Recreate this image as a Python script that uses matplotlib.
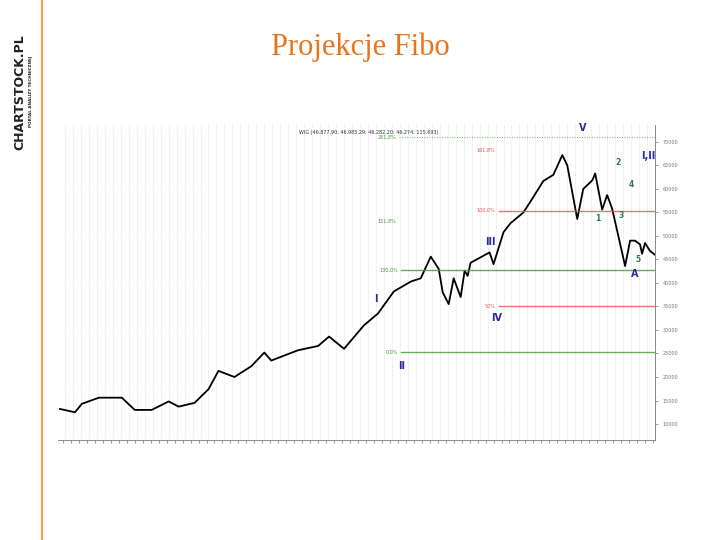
import matplotlib
matplotlib.use("Agg")
import matplotlib.pyplot as plt

# price path (week index, index value)
weeks = [0, 15, 22, 39, 62, 75, 92, 109, 119, 135, 149, 159, 175, 192, 205, 212, 239, 259,
         270, 285, 305, 319, 335, 352, 362, 372, 380, 384, 390, 395, 402, 406, 409, 412, 431,
         435, 445, 452, 465, 472, 485, 495, 504, 509, 519, 525, 534, 537, 544, 549, 554, 560,
         567, 572, 577, 582, 584, 587, 592, 597]
prices = [13200, 12500, 14300, 15600, 15600, 13000, 13000, 14800, 13700, 14500, 17400, 21300,
          20000, 22300, 25200, 23500, 25700, 26600, 28600, 26000, 31000, 33500, 38200, 40300,
          41000, 45600, 43000, 38000, 35500, 41000, 37000, 42600, 41500, 44300, 46500, 44000,
          50800, 52700, 55000, 57300, 61700, 63000, 67200, 65000, 53600, 60000, 61800, 63300,
          55600, 58700, 55800, 50200, 43600, 49000, 49000, 48200, 46200, 48500, 46800, 46000]

fib_labels = ["261,8%", "161,8%", "100,0%", "151,8%", "130,0%", "50%", "0,0%"]
fib_values = [71000, 68300, 55400, 53100, 42700, 35000, 25300]
fib_colors = ["#3a9a3a", "#e05050", "#e05050", "#3a9a3a", "#3a9a3a", "#e05050", "#3a9a3a"]
fib_start = [340, 440, 440, 340, 342, 440, 342]
fib_drawn = [False, False, True, False, True, True, True]

waves = [("I", 317, 36500), ("II", 343, 22300), ("III", 432, 48800), ("IV", 438, 32500),
         ("V", 524, 73000), ("I,II", 590, 67000), ("A", 577, 42000)]
subwaves = [("1", 540, 53800), ("2", 560, 65700), ("3", 563, 54400), ("4", 573, 61000),
            ("5", 580, 45000)]

yticks = list(range(10000, 70001, 5000))

fig = plt.figure(figsize=(7.2, 5.4), dpi=100)
fig.patch.set_facecolor("white")

fig.text(0.5, 0.913, "Projekcje Fibo", color="#e8741e", fontsize=22,
         family="Liberation Serif", ha="center", va="center")
fig.add_artist(plt.Line2D([0.058, 0.058], [0, 1], color="#f0a050", lw=1.5))
fig.text(0.027, 0.83, "CHARTSTOCK.PL", rotation=90, fontsize=9, fontweight="bold",
         ha="center", va="center", color="#222222")
fig.text(0.043, 0.83, "PORTAL ANALIZY TECHNICZNEJ", rotation=90, fontsize=3,
         fontweight="bold", ha="center", va="center", color="#222222")

ax = fig.add_axes([58 / 720, 1 - 440 / 540, 597 / 720, 315 / 540])
ax.set_xlim(-2, 597)
ax.set_ylim(6600, 73600)
for xg in range(5, 597, 8):
    ax.axvline(xg, color="#c8c8c8", lw=0.5, ls=(0, (1, 2)))
ax.plot(weeks, prices, color="black", lw=1.3)

for lab, v, c, s, d in zip(fib_labels, fib_values, fib_colors, fib_start, fib_drawn):
    if d:
        ax.plot([s, 597], [v, v], color=c, lw=1, alpha=0.8)
    elif lab == "261,8%":
        ax.plot([s, 597], [v, v], color=c, lw=0.6, ls=(0, (1, 2)))
    ax.text(s - 3, v, lab, color=c, fontsize=3.5, ha="right", va="center")

for t, x, y in waves:
    ax.text(x, y, t, color="#2a2a9a", fontsize=7, fontweight="bold", ha="center", va="center")
for t, x, y in subwaves:
    ax.text(x, y, t, color="#2a7a4a", fontsize=5.5, fontweight="bold", ha="center", va="center")

ax.text(240, 72000, "WIG (46.877,90; 46.985,29; 46.282,20; 46.274; 115.693)", fontsize=3.5,
        color="#333333", va="center")

ax.yaxis.tick_right()
ax.set_yticks(yticks)
ax.set_yticklabels([str(v) for v in yticks], fontsize=3.5, color="#555555")
ax.set_xticks(range(3, 597, 8))
ax.set_xticklabels([""] * len(range(3, 597, 8)))
ax.tick_params(length=2, width=0.5, colors="#777777")
for side in ["top", "left"]:
    ax.spines[side].set_visible(False)
for side in ["right", "bottom"]:
    ax.spines[side].set_linewidth(0.6)
    ax.spines[side].set_color("#777777")

fig.savefig("out.png", dpi=100)
